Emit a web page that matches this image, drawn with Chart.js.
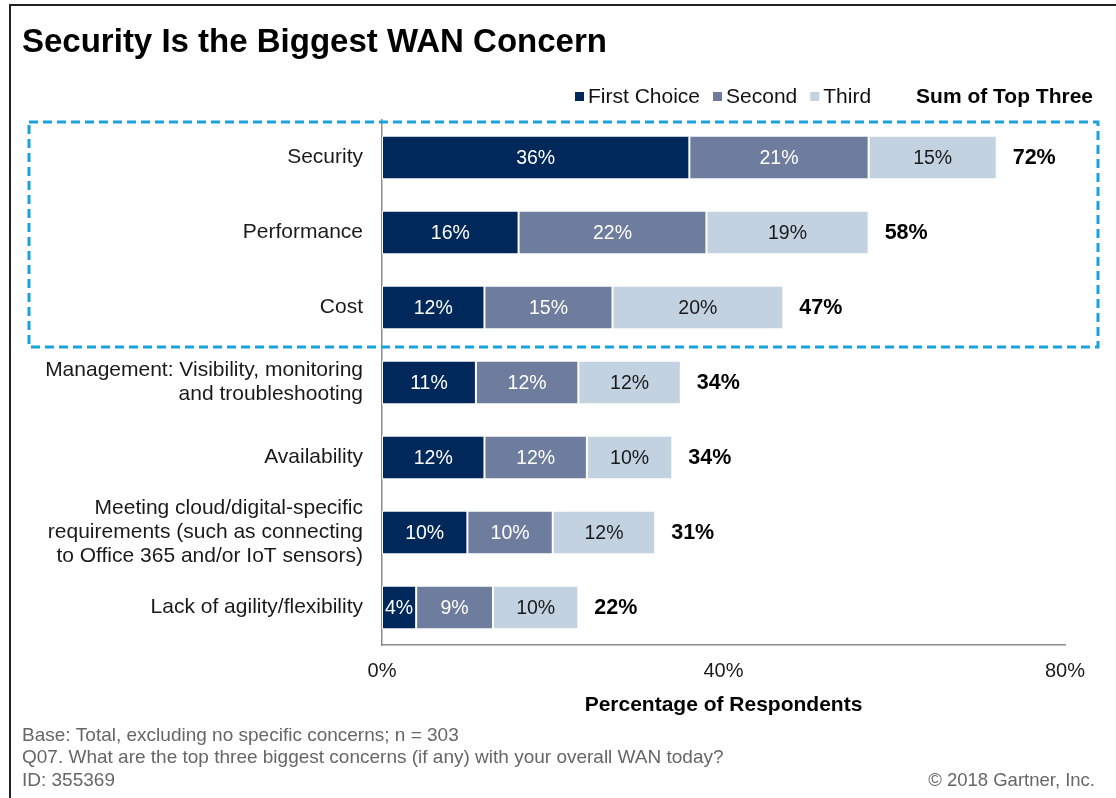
<!DOCTYPE html>
<html>
<head>
<meta charset="utf-8">
<script src="https://cdn.jsdelivr.net/npm/chart.js@4.4.1/dist/chart.umd.min.js"></script>
<style>
  html, body { margin: 0; padding: 0; background: #fff; }
  #wrap { position: relative; width: 1116px; height: 798px; }
</style>
</head>
<body>
<div id="wrap"><canvas id="wanChart" width="1116" height="798"></canvas></div>
<script>
const categories = [
  'Security',
  'Performance',
  'Cost',
  ['Management: Visibility, monitoring', 'and troubleshooting'],
  'Availability',
  ['Meeting cloud/digital-specific', 'requirements (such as connecting', 'to Office 365 and/or IoT sensors)'],
  'Lack of agility/flexibility'
];
const firstChoice = [36, 16, 12, 11, 12, 10, 4];
const secondChoice = [21, 22, 15, 12, 12, 10, 9];
const thirdChoice = [15, 19, 20, 12, 10, 12, 10];
const sumTopThree = [72, 58, 47, 34, 34, 31, 22];
const xTicks = [0, 40, 80];

const FONT = "'Liberation Sans', Arial, sans-serif";

const overlay = {
  id: 'overlay',
  afterDraw(chart) {
    const c = chart.ctx;
    c.save();

    // frame lines (top and left only)
    c.strokeStyle = '#222';
    c.lineWidth = 2;
    c.beginPath();
    c.moveTo(10, 798);
    c.lineTo(10, 5);
    c.lineTo(1116, 5);
    c.stroke();

    // title
    c.fillStyle = '#000';
    c.font = 'bold 33px ' + FONT;
    c.textAlign = 'left';
    c.textBaseline = 'alphabetic';
    c.fillText('Security Is the Biggest WAN Concern', 22, 52);

    // legend
    c.font = '21px ' + FONT;
    c.textBaseline = 'middle';
    let lx = 575;
    chart.data.datasets.forEach(ds => {
      c.fillStyle = ds.backgroundColor;
      c.fillRect(lx, 92, 9, 9);
      c.fillStyle = '#111';
      c.fillText(ds.label, lx + 13, 97);
      lx += 13 + c.measureText(ds.label).width + 13;
    });
    c.font = 'bold 21px ' + FONT;
    c.textAlign = 'right';
    c.fillStyle = '#000';
    c.fillText('Sum of Top Three', 1093, 97);

    // value labels inside bars
    c.font = '19.5px ' + FONT;
    c.textAlign = 'center';
    chart.data.datasets.forEach((ds, i) => {
      const meta = chart.getDatasetMeta(i);
      meta.data.forEach((bar, j) => {
        const mid = (bar.base + bar.x) / 2;
        c.fillStyle = i === 2 ? '#1a1a1a' : '#fff';
        c.fillText(ds.data[j] + '%', mid, bar.y + 1);
      });
    });

    // sums
    c.font = 'bold 21.5px ' + FONT;
    c.textAlign = 'left';
    c.fillStyle = '#000';
    const last = chart.getDatasetMeta(2);
    last.data.forEach((bar, j) => {
      c.fillText(sumTopThree[j] + '%', bar.x + 16, bar.y + 1);
    });

    // dashed highlight box around top three
    c.strokeStyle = '#1ba1dc';
    c.lineWidth = 3;
    c.setLineDash([9, 5]);
    c.strokeRect(29, 122, 1069, 225);
    c.setLineDash([]);

    // footer
    c.font = '19px ' + FONT;
    c.fillStyle = '#666';
    c.textAlign = 'left';
    c.fillText('Base: Total, excluding no specific concerns; n = 303', 22, 736);
    c.fillText('Q07. What are the top three biggest concerns (if any) with your overall WAN today?', 22, 758);
    c.fillText('ID: 355369', 22, 781);
    c.font = '18.5px ' + FONT;
    c.textAlign = 'right';
    c.fillText('\u00A9 2018 Gartner, Inc.', 1095, 781);

    c.restore();
  }
};

new Chart(document.getElementById('wanChart'), {
  type: 'bar',
  data: {
    labels: categories,
    datasets: [
      { label: 'First Choice', data: firstChoice, backgroundColor: '#00285a' },
      { label: 'Second', data: secondChoice, backgroundColor: '#6e7c9d' },
      { label: 'Third', data: thirdChoice, backgroundColor: '#c2d2e0' }
    ]
  },
  options: {
    indexAxis: 'y',
    responsive: false,
    animation: false,
    layout: {
      padding: { top: 120, left: 0, right: 51, bottom: 76 }
    },
    datasets: {
      bar: {
        categoryPercentage: 1,
        barPercentage: 0.58,
        borderColor: '#fff',
        borderWidth: 1,
        borderSkipped: false
      }
    },
    plugins: {
      legend: { display: false },
      tooltip: { enabled: false },
      title: { display: false }
    },
    scales: {
      x: {
        stacked: true,
        min: 0,
        max: 80,
        afterBuildTicks: function(scale) {
          scale.ticks = xTicks.map(v => ({ value: v }));
        },
        afterFit: function(scale) { scale.height = 77; },
        grid: { display: false, drawTicks: false },
        border: { display: true, color: '#8c8c8c', width: 1.5 },
        ticks: {
          padding: 14,
          color: '#1a1a1a',
          font: { size: 20, family: FONT },
          callback: v => v + '%'
        },
        title: {
          display: true,
          text: 'Percentage of Respondents',
          color: '#000',
          font: { size: 21, weight: 'bold', family: FONT },
          padding: { top: 0 }
        }
      },
      y: {
        stacked: true,
        afterFit: function(scale) { scale.width = 382; },
        grid: { display: false, drawTicks: false },
        border: { display: true, color: '#8c8c8c', width: 1.5 },
        ticks: {
          autoSkip: false,
          padding: 19,
          color: '#1a1a1a',
          font: { size: 21, family: FONT, lineHeight: 1.15 }
        }
      }
    }
  },
  plugins: [overlay]
});
</script>
</body>
</html>
